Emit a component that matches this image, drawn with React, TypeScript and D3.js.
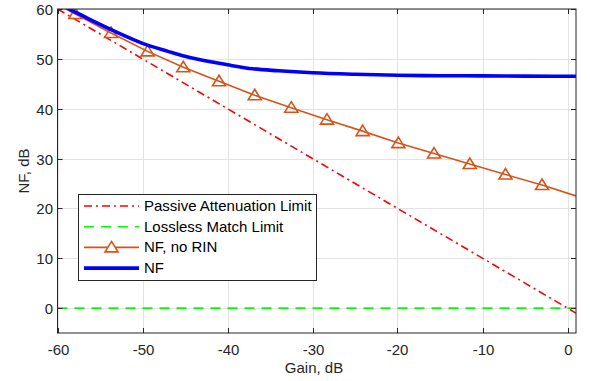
import React from 'react';
import { scaleLinear, line, curveMonotoneX, range } from 'd3';

// readings from the plot
const xTicks = [-60, -50, -40, -30, -20, -10, 0];
const yTicks = [0, 10, 20, 30, 40, 50, 60];

const passiveGain = [-60, 1];
const passiveNF = [60, -1];

const losslessGain = [-60, 1];
const losslessNF = [0, 0];

const noRinGain = [-60, -57.9, -53.7, -49.4, -45.2, -41.0, -36.8, -32.5, -28.3, -24.1, -19.9, -15.7, -11.5, -7.3, -3.0, 1];
const noRinNF = [60.9, 59.0, 55.2, 51.5, 48.3, 45.5, 42.7, 40.2, 37.8, 35.5, 33.1, 31.0, 28.9, 26.8, 24.7, 22.5];
const noRinMarkers = range(1, 15);

const nfGain = [-60, -59, -57, -55, -53, -50, -47, -45, -42, -40, -37, -34, -30, -25, -20, -15, -10, -5, 0, 1];
const nfVal = [61.2, 60.3, 58.6, 56.9, 55.3, 53.1, 51.5, 50.5, 49.4, 48.8, 48.0, 47.6, 47.2, 46.9, 46.7, 46.62, 46.58, 46.54, 46.5, 46.5];

const legendItems = ['Passive Attenuation Limit', 'Lossless Match Limit', 'NF, no RIN', 'NF'];

const W = 590, H = 381;
const left = 57.5, right = 576, top = 9, bottom = 333;
const font = 'Arial, "Liberation Sans", Helvetica, sans-serif';
const axisCol = '#262626';
const gridCol = '#e3e3e3';
const orange = '#D95319';

const tri = (cx: number, cy: number) =>
  `M${cx},${cy - 6}L${cx + 6.5},${cy + 4.5}L${cx - 6.5},${cy + 4.5}Z`;

export default function App() {
  const x = scaleLinear().domain([-60, 1]).range([left, right]);
  const y = scaleLinear().domain([-5, 60]).range([bottom, top]);

  const mk = (xs: number[], ys: number[], curve = false) => {
    const g = line<number>()
      .x((d) => x(xs[d]))
      .y((d) => y(ys[d]));
    if (curve) g.curve(curveMonotoneX);
    return g(xs.map((_, i) => i)) || '';
  };

  const lx = 78.5, ly = 194.5, lw = 238, lh = 86;
  const rowY = (i: number) => 206 + i * 20.7;

  return (
    <svg width={W} height={H} style={{ position: 'absolute', left: 0, top: 0, background: '#fff' }}>
      <defs>
        <clipPath id="plot">
          <rect x={left} y={top} width={right - left} height={bottom - top} />
        </clipPath>
      </defs>
      <rect x={0} y={0} width={W} height={H} fill="#fff" />

      {/* grid */}
      {xTicks.map((t) => (
        <line key={'gx' + t} x1={Math.round(x(t)) + 0.5} x2={Math.round(x(t)) + 0.5} y1={top} y2={bottom} stroke={gridCol} strokeWidth={1} />
      ))}
      {yTicks.map((t) => (
        <line key={'gy' + t} x1={left} x2={right} y1={Math.round(y(t)) + 0.5} y2={Math.round(y(t)) + 0.5} stroke={gridCol} strokeWidth={1} />
      ))}

      <g clipPath="url(#plot)">
        <path d={mk(losslessGain, losslessNF)} fill="none" stroke="#00ff00" strokeWidth={1.6} strokeDasharray="10,7" />
        <path d={mk(passiveGain, passiveNF)} fill="none" stroke="#ff0000" strokeWidth={1.6} strokeDasharray="8,4,2,4" />
        <path d={mk(noRinGain, noRinNF)} fill="none" stroke={orange} strokeWidth={1.6} />
        {noRinMarkers.map((i) => (
          <path key={'m' + i} d={tri(x(noRinGain[i]), y(noRinNF[i]))} fill="none" stroke={orange} strokeWidth={1.6} />
        ))}
        <path d={mk(nfGain, nfVal, true)} fill="none" stroke="#0000ff" strokeWidth={3.6} />
      </g>

      {/* axes box */}
      <rect x={left} y={top} width={right - left} height={bottom - top} fill="none" stroke={axisCol} strokeWidth={1} />
      {xTicks.map((t) => {
        const px = Math.round(x(t)) + 0.5;
        return (
          <g key={'tx' + t}>
            <line x1={px} x2={px} y1={bottom} y2={bottom - 5} stroke={axisCol} />
            <line x1={px} x2={px} y1={top} y2={top + 5} stroke={axisCol} />
            <text x={px} y={355} textAnchor="middle" fontFamily={font} fontSize={15} fill={axisCol}>{t}</text>
          </g>
        );
      })}
      {yTicks.map((t) => {
        const py = Math.round(y(t)) + 0.5;
        return (
          <g key={'ty' + t}>
            <line x1={left} x2={left + 5} y1={py} y2={py} stroke={axisCol} />
            <line x1={right} x2={right - 5} y1={py} y2={py} stroke={axisCol} />
            <text x={53} y={py + 5} textAnchor="end" fontFamily={font} fontSize={15} fill={axisCol}>{t}</text>
          </g>
        );
      })}
      <text x={314} y={373} textAnchor="middle" fontFamily={font} fontSize={15} fill={axisCol}>Gain, dB</text>
      <text transform={`translate(29,${(top + bottom) / 2}) rotate(-90)`} textAnchor="middle" fontFamily={font} fontSize={15} fill={axisCol}>NF, dB</text>

      {/* legend */}
      <rect x={lx} y={ly} width={lw} height={lh} fill="#fff" stroke={axisCol} strokeWidth={1} />
      <line x1={84} x2={139} y1={rowY(0)} y2={rowY(0)} stroke="#ff0000" strokeWidth={1.6} strokeDasharray="8,4,2,4" />
      <line x1={84} x2={139} y1={rowY(1)} y2={rowY(1)} stroke="#00ff00" strokeWidth={1.6} strokeDasharray="10,7" />
      <line x1={84} x2={139} y1={rowY(2)} y2={rowY(2)} stroke={orange} strokeWidth={1.6} />
      <path d={tri(111.5, rowY(2))} fill="#fff" stroke={orange} strokeWidth={1.6} />
      <line x1={84} x2={139} y1={rowY(3)} y2={rowY(3)} stroke="#0000ff" strokeWidth={3.6} />
      {legendItems.map((s, i) => (
        <text key={s} x={144} y={rowY(i) + 5} fontFamily={font} fontSize={15} fill="#000">{s}</text>
      ))}
    </svg>
  );
}
